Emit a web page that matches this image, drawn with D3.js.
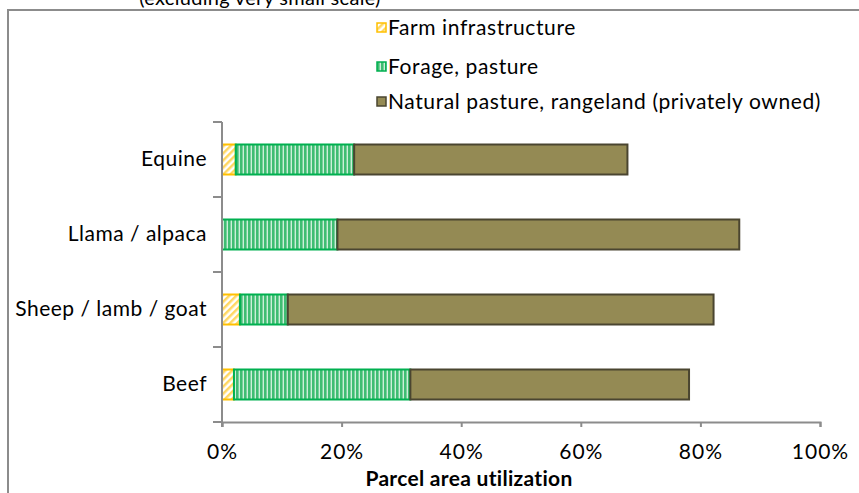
<!DOCTYPE html>
<html>
<head>
<meta charset="utf-8">
<script src="https://cdn.jsdelivr.net/npm/d3@7"></script>
<style>
  body { margin: 0; background: #fff; }
  svg { display: block; font-family: Lato, "Open Sans", sans-serif; }
</style>
</head>
<body>
<svg id="chart" width="859" height="493"></svg>
<script>
// chart data
var categories = ["Equine", "Llama / alpaca", "Sheep / lamb / goat", "Beef"];
var farm = [0.023, 0.0, 0.030, 0.020];
var forage = [0.198, 0.193, 0.080, 0.295];
var natural = [0.457, 0.672, 0.712, 0.466];
var seriesNames = ["Farm infrastructure", "Forage, pasture", "Natural pasture, rangeland (privately owned)"];
var xTicks = [0, 0.2, 0.4, 0.6, 0.8, 1];

var svg = d3.select("#chart");

// patterns for the hatched series
var defs = svg.append("defs");
var diag = defs.append("pattern")
    .attr("id", "diag")
    .attr("patternUnits", "userSpaceOnUse")
    .attr("width", 5).attr("height", 5)
    .attr("patternTransform", "rotate(45)");
diag.append("rect").attr("width", 5).attr("height", 5).attr("fill", "#fff");
diag.append("rect").attr("width", 2.5).attr("height", 5).attr("fill", "#ffd761");

var vert = defs.append("pattern")
    .attr("id", "vert")
    .attr("patternUnits", "userSpaceOnUse")
    .attr("width", 4).attr("height", 4);
vert.append("rect").attr("width", 4).attr("height", 4).attr("fill", "#cdefd9");
vert.append("rect").attr("width", 2.6).attr("height", 4).attr("fill", "#3fbd72");

var fills = ["url(#diag)", "url(#vert)", "#948a54"];
var strokes = ["#ffc000", "#00b050", "#4a4530"];

// outer frame (only top and left edges are visible)
svg.append("rect")
    .attr("x", 8).attr("y", 10)
    .attr("width", 900).attr("height", 600)
    .attr("fill", "none")
    .attr("stroke", "#8c8c8c")
    .attr("stroke-width", 2);

// title above the frame, partly cut off at the top edge as in the original
svg.append("text")
    .attr("x", 260).attr("y", 5)
    .attr("text-anchor", "middle")
    .style("font-size", "20px")
    .style("letter-spacing", "0.3px")
    .attr("fill", "#000")
    .text("(excluding very small scale)");

var x = d3.scaleLinear().domain([0, 1]).range([222, 820]);
var y = d3.scaleBand().domain(categories).range([122, 422])
    .paddingInner(0.6).paddingOuter(0.3);

var table = categories.map(function (c, i) {
    return { cat: c, farm: farm[i], forage: forage[i], natural: natural[i] };
});
var stack = d3.stack().keys(["farm", "forage", "natural"])(table);

svg.append("g").selectAll("g")
    .data(stack)
    .enter().append("g")
    .each(function (s, si) {
        d3.select(this).selectAll("rect")
            .data(s.filter(function (d) { return d[1] - d[0] > 0; }))
            .enter().append("rect")
            .attr("x", function (d) { return x(d[0]); })
            .attr("y", function (d) { return y(d.data.cat); })
            .attr("width", function (d) { return x(d[1]) - x(d[0]); })
            .attr("height", y.bandwidth())
            .attr("fill", fills[si])
            .attr("stroke", strokes[si])
            .attr("stroke-width", 2);
    });

// x axis
var xAxis = svg.append("g")
    .attr("transform", "translate(0,422)")
    .call(d3.axisBottom(x).tickValues(xTicks).tickFormat(d3.format(".0%"))
        .tickSize(5).tickSizeOuter(5).tickPadding(17));
xAxis.select(".domain").attr("stroke", "#8c8c8c").attr("stroke-width", 2);
xAxis.selectAll(".tick line").attr("stroke", "#8c8c8c").attr("stroke-width", 2);
xAxis.selectAll("text")
    .style("font-size", "21px")
    .style("letter-spacing", "1px")
    .style("font-family", "Lato, sans-serif")
    .attr("fill", "#000");

svg.append("text")
    .attr("x", 469).attr("y", 486)
    .attr("text-anchor", "middle")
    .style("font-size", "21px")
    .style("font-weight", "bold")
    .style("letter-spacing", "0.3px")
    .text("Parcel area utilization");

// y axis: labels from axisLeft, ticks at band boundaries
var yAxis = svg.append("g")
    .attr("transform", "translate(222,0)")
    .call(d3.axisLeft(y).tickSize(0).tickPadding(15));
yAxis.select(".domain").remove();
yAxis.selectAll("text")
    .style("font-size", "21px")
    .style("letter-spacing", "0.5px")
    .style("font-family", "Lato, sans-serif")
    .attr("fill", "#000");

var bounds = categories.map(function (c) { return y(c) - y.step() * y.paddingOuter(); });
bounds.push(y.range()[1]);
svg.append("line")
    .attr("x1", 222).attr("x2", 222)
    .attr("y1", y.range()[0]).attr("y2", y.range()[1] + 5)
    .attr("stroke", "#8c8c8c").attr("stroke-width", 2);
svg.append("g").selectAll("line")
    .data(bounds)
    .enter().append("line")
    .attr("x1", 213).attr("x2", 222)
    .attr("y1", function (d) { return d; })
    .attr("y2", function (d) { return d; })
    .attr("stroke", "#8c8c8c").attr("stroke-width", 2);

// legend
var legend = svg.append("g").selectAll("g")
    .data(seriesNames)
    .enter().append("g")
    .attr("transform", function (d, i) { return "translate(377," + [28, 67, 102][i] + ")"; });
legend.append("rect")
    .attr("x", 0).attr("y", -5)
    .attr("width", 9).attr("height", 9)
    .attr("fill", function (d, i) { return fills[i]; })
    .attr("stroke", function (d, i) { return strokes[i]; })
    .attr("stroke-width", 1.5);
legend.append("text")
    .attr("x", 11).attr("dy", "0.35em")
    .style("font-size", "21px")
    .style("letter-spacing", "0.6px")
    .text(function (d) { return d; });
</script>
</body>
</html>
